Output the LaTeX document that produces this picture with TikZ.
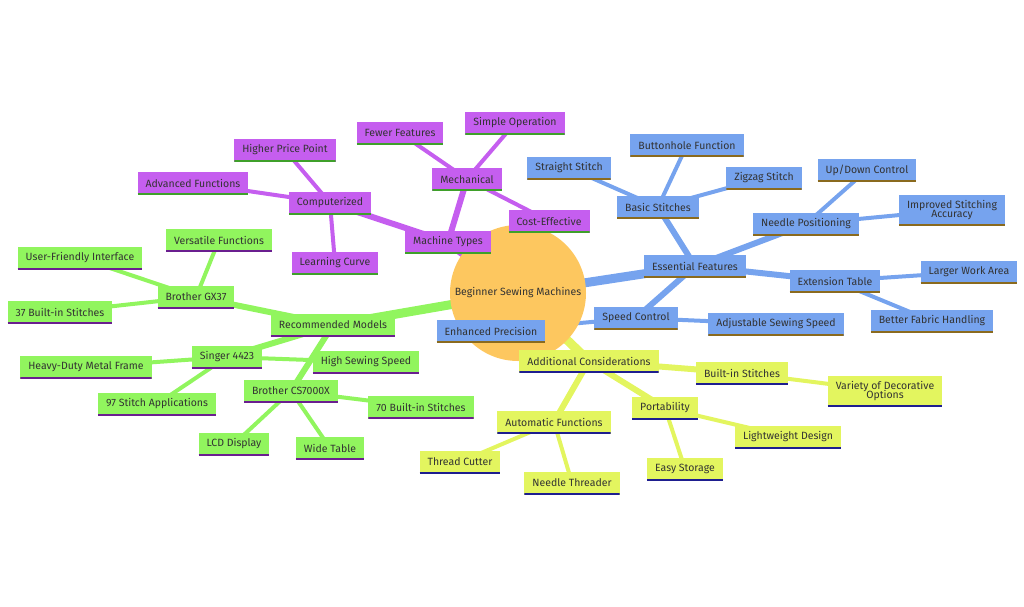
\documentclass[tikz,border=0pt]{standalone}
\usepackage{fontspec}
\setmainfont{Fira Sans}
\usetikzlibrary{backgrounds}
\definecolor{cb}{HTML}{76A3EE}
\definecolor{cp}{HTML}{C55EEF}
\definecolor{cg}{HTML}{91F55E}
\definecolor{cy}{HTML}{E3F55F}
\definecolor{cr}{HTML}{FDC75F}
\definecolor{bb}{HTML}{8A6A1E}
\definecolor{bp}{HTML}{3FA02A}
\definecolor{bg}{HTML}{6A1E8F}
\definecolor{by}{HTML}{1E1E8F}
\definecolor{tx}{HTML}{333333}
\begin{document}
\begin{tikzpicture}[x=1pt,y=-1pt,
  mm/.style 2 args={fill=#1,text=tx,font=\fontsize{10.5}{11}\selectfont,inner xsep=8pt,inner ysep=0pt,minimum height=23pt,align=center,
    path picture={\draw[#2,line width=3pt](path picture bounding box.south west)--(path picture bounding box.south east);}},
  B/.style={mm={cb}{bb}}, P/.style={mm={cp}{bp}}, G/.style={mm={cg}{bg}}, Y/.style={mm={cy}{by}},
  e1/.style={line width=9pt}, e2/.style={line width=6pt}, e3/.style={line width=4pt}]
\useasboundingbox (0,0) rectangle (1024,606);
% nodes
\node[B] (ef) at (695,266) {Essential Features};
\node[B] (bs) at (658,207) {Basic Stitches};
\node[B] (ss) at (569,168) {Straight Stitch};
\node[B] (bf) at (687,145) {Buttonhole Function};
\node[B] (zz) at (764,178) {Zigzag Stitch};
\node[B] (np) at (806,224) {Needle Positioning};
\node[B] (ud) at (867,170) {Up/Down Control};
\node[B,minimum height=31pt] (isa) at (952,210) {Improved Stitching\\[-2pt]Accuracy};
\node[B] (et) at (835,281) {Extension Table};
\node[B] (lwa) at (969,272) {Larger Work Area};
\node[B] (bfh) at (932,321) {Better Fabric Handling};
\node[B] (sc) at (636,318) {Speed Control};
\node[B] (ass) at (776,324) {Adjustable Sewing Speed};
\node[B] (ep) at (491,331) {Enhanced Precision};
\node[P] (mt) at (448,242) {Machine Types};
\node[P] (me) at (467,179) {Mechanical};
\node[P] (ff) at (400,133) {Fewer Features};
\node[P] (so) at (515,123) {Simple Operation};
\node[P] (ce) at (549,221) {Cost-Effective};
\node[P] (co) at (330,203) {Computerized};
\node[P] (hpp) at (285,150) {Higher Price Point};
\node[P] (af) at (193,183) {Advanced Functions};
\node[P] (lc) at (335,263) {Learning Curve};
\node[G] (rm) at (333,325) {Recommended Models};
\node[G] (gx) at (196,297) {Brother GX37};
\node[G] (vf) at (219,240) {Versatile Functions};
\node[G] (ufi) at (80,258) {User-Friendly Interface};
\node[G] (b37) at (60,312) {37 Built-in Stitches};
\node[G] (si) at (227,357) {Singer 4423};
\node[G] (hd) at (86,367) {Heavy-Duty Metal Frame};
\node[G] (s97) at (157,404) {97 Stitch Applications};
\node[G] (hss) at (366,362) {High Sewing Speed};
\node[G] (cs) at (291,391) {Brother CS7000X};
\node[G] (b70) at (421,407) {70 Built-in Stitches};
\node[G] (lcd) at (234,444) {LCD Display};
\node[G] (wt) at (330,448) {Wide Table};
\node[Y] (ac) at (589,361) {Additional Considerations};
\node[Y] (bis) at (742,373) {Built-in Stitches};
\node[Y,minimum height=31pt] (vdo) at (885,391) {Variety of Decorative\\[-2pt]Options};
\node[Y] (po) at (665,408) {Portability};
\node[Y] (lwd) at (788,437) {Lightweight Design};
\node[Y] (es) at (685,469) {Easy Storage};
\node[Y] (auf) at (554,422) {Automatic Functions};
\node[Y] (tc) at (460,462) {Thread Cutter};
\node[Y] (nt) at (572,483) {Needle Threader};
\coordinate (root) at (518,293);
\begin{scope}[on background layer]
\begin{scope}[cb]
\draw[e1] (root)--(ef.center);
\draw[e2] (ef.center)--(bs.center); \draw[e2] (ef.center)--(np.center);
\draw[e2] (ef.center)--(et.center); \draw[e2] (ef.center)--(sc.center);
\draw[e3] (bs.center)--(ss.center); \draw[e3] (bs.center)--(bf.center); \draw[e3] (bs.center)--(zz.center);
\draw[e3] (np.center)--(ud.center); \draw[e3] (np.center)--(isa.center);
\draw[e3] (et.center)--(lwa.center); \draw[e3] (et.center)--(bfh.center);
\draw[e3] (sc.center)--(ass.center); \draw[e3] (sc.center)--(ep.center);
\end{scope}
\begin{scope}[cp]
\draw[e1] (root)--(mt.center);
\draw[e2] (mt.center)--(me.center); \draw[e2] (mt.center)--(co.center);
\draw[e3] (me.center)--(ff.center); \draw[e3] (me.center)--(so.center); \draw[e3] (me.center)--(ce.center);
\draw[e3] (co.center)--(hpp.center); \draw[e3] (co.center)--(af.center); \draw[e3] (co.center)--(lc.center);
\end{scope}
\begin{scope}[cg]
\draw[e1] (root)--(rm.center);
\draw[e2] (rm.center)--(gx.center); \draw[e2] (rm.center)--(si.center); \draw[e2] (rm.center)--(cs.center);
\draw[e3] (gx.center)--(vf.center); \draw[e3] (gx.center)--(ufi.center); \draw[e3] (gx.center)--(b37.center);
\draw[e3] (si.center)--(hd.center); \draw[e3] (si.center)--(s97.center); \draw[e3] (si.center)--(hss.center);
\draw[e3] (cs.center)--(b70.center); \draw[e3] (cs.center)--(lcd.center); \draw[e3] (cs.center)--(wt.center);
\end{scope}
\begin{scope}[cy]
\draw[e1] (root)--(ac.center);
\draw[e2] (ac.center)--(bis.center); \draw[e2] (ac.center)--(po.center); \draw[e2] (ac.center)--(auf.center);
\draw[e3] (bis.center)--(vdo.center);
\draw[e3] (po.center)--(lwd.center); \draw[e3] (po.center)--(es.center);
\draw[e3] (auf.center)--(tc.center); \draw[e3] (auf.center)--(nt.center);
\end{scope}
\node[circle,fill=cr,minimum size=136pt,inner sep=0pt,text=tx,font=\fontsize{10.5}{11}\selectfont] (rt) at (root) {Beginner Sewing Machines};
\end{scope}
\end{tikzpicture}
\end{document}
